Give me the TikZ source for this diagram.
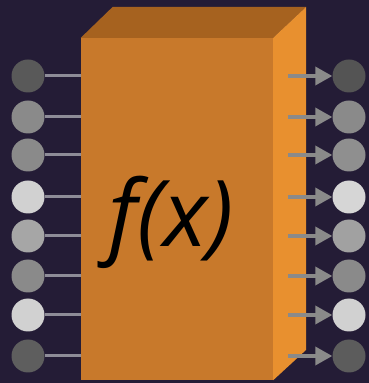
\documentclass[tikz,border=0pt]{standalone}
\usepackage{fontspec}
\setmainfont{Open Sans}
\usetikzlibrary{arrows.meta}
\definecolor{bgnavy}{HTML}{241C36}
\definecolor{frontface}{HTML}{C8792B}
\definecolor{topface}{HTML}{A6621F}
\definecolor{sideface}{HTML}{E8902F}
\definecolor{wiregray}{HTML}{8E8C98}
\definecolor{arrowgray}{HTML}{8A8A8A}

\begin{document}
\begin{tikzpicture}[x=1pt,y=1pt,
    dot/.style={circle,minimum size=33pt,inner sep=0pt},
    inwire/.style={draw=wiregray,line width=3pt},
    outwire/.style={draw=arrowgray,line width=3.5pt,-{Triangle[length=17pt,width=18pt]}}]
  \fill[bgnavy] (0,0) rectangle (369,383);
  \useasboundingbox (0,0) rectangle (369,383);
  % the block
  \node[fill=frontface,minimum width=192pt,minimum height=342pt,inner sep=0pt] (box) at (177,174) {};
  \fill[topface] (box.north west) -- ++(32,31) -- (306,376) -- (box.north east) -- cycle;
  \fill[sideface] (box.north east) -- (306,376) -- (306,33) -- (box.south east) -- cycle;
  \node[anchor=base,font=\fontsize{92}{100}\selectfont\itshape] (fx) at (171,136) {f(x)};
  \coordinate (rs) at (288,0);
  % inputs
  \foreach \i/\y/\c in {1/307/35,2/266/54,3/228/54,4/186/82,5/147/65,6/107/54,7/68/82,8/27/37}{
    \node[dot,fill=white!\c!black] (in\i) at (28,\y) {};
    \draw[inwire] (in\i) -- (in\i -| box.west);
  }
  % outputs
  \foreach \i/\y/\c in {1/307/33,2/266/54,3/228/56,4/186/84,5/147/63,6/107/54,7/68/82,8/27/36}{
    \node[dot,fill=white!\c!black] (out\i) at (349,\y) {};
    \draw[outwire] (out\i -| rs) -- (out\i);
  }
\end{tikzpicture}
\end{document}
